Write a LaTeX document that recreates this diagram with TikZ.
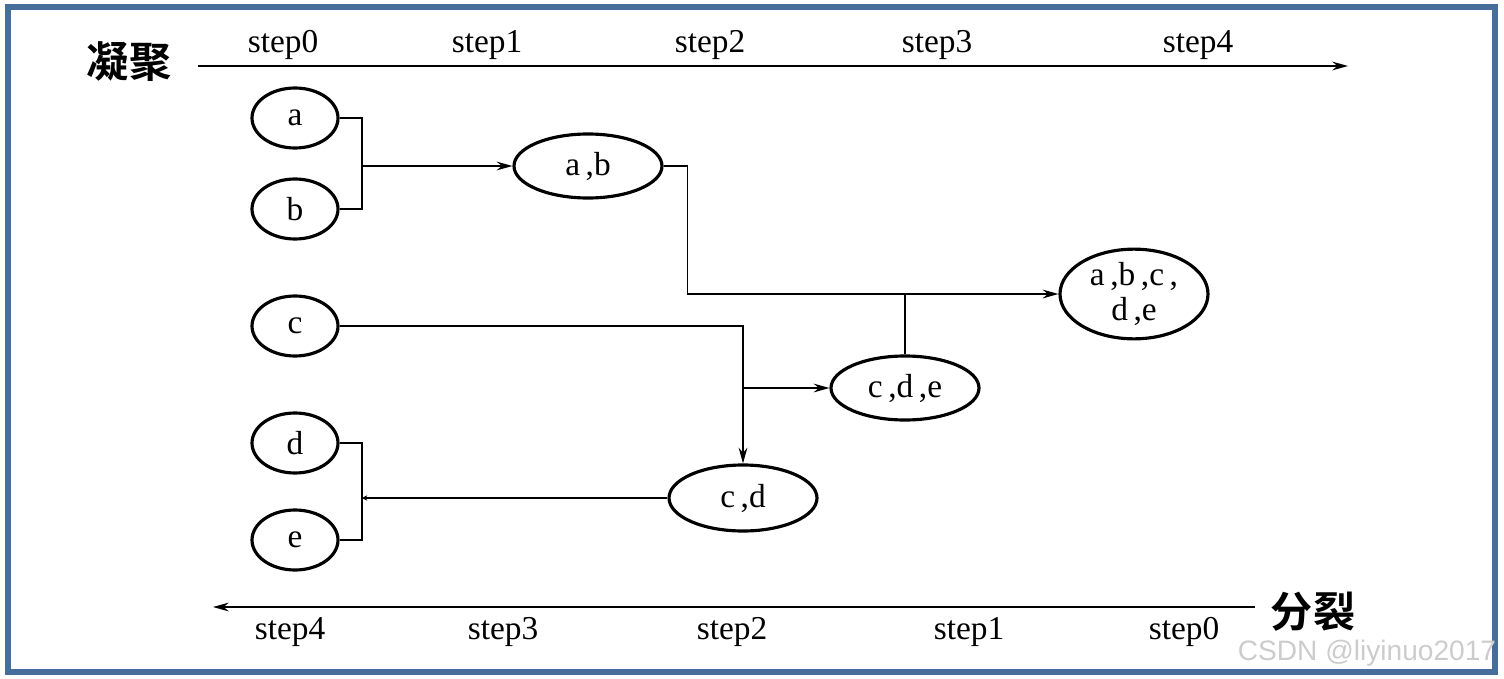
\documentclass[tikz,border=0pt]{standalone}
\usepackage{fontspec}
\setmainfont{Liberation Serif}
\newfontfamily\cjkbold[BoldFont={Noto Sans CJK SC Bold}]{Noto Sans CJK SC}
\newfontfamily\markfont{Liberation Sans}
\usetikzlibrary{arrows.meta, shapes.geometric}
\definecolor{framecol}{RGB}{70,110,154}
\begin{document}
\begin{tikzpicture}[x=0.02cm, y=-0.02cm, >={Stealth[length=9pt,width=5pt,inset=3pt]},
    leaf/.style={ellipse, draw, line width=1.8pt, minimum width=86*0.02cm, minimum height=60*0.02cm, inner sep=0pt, font=\fontsize{19}{20}\selectfont},
    group/.style={ellipse, draw, line width=1.8pt, minimum width=148*0.02cm, minimum height=64*0.02cm, inner sep=0pt, font=\fontsize{19}{20}\selectfont, align=center},
    link/.style={line width=0.8pt},
    steplabel/.style={font=\fontsize{19}{20}\selectfont, inner sep=0pt},
    phase/.style={font=\cjkbold\bfseries\fontsize{24}{26}\selectfont, inner sep=0pt}]
    \useasboundingbox (0,0) rectangle (1504,679);
    \draw[framecol, line width=6*0.02cm] (8,7) rectangle (1495,671.5);
    % leaves
    \node[leaf] (a) at (295,118) {a};
    \node[leaf] (b) at (295,209) {b};
    \node[leaf] (c) at (295,326) {c};
    \node[leaf] (d) at (295,443) {d};
    \node[leaf] (e) at (295,540) {e};
    % merged clusters
    \node[group] (ab) at (588,166) {a\,,b};
    \node[group, minimum height=66*0.02cm] (cd) at (743,498) {c\,,d};
    \node[group] (cde) at (905,388) {c\,,d\,,e};
    \node[group] (abcde) at (1134,294) {a\,,b\,,c\,,\\d\,,e};
    % joins
    \coordinate (jab) at (362,166);
    \coordinate (jde) at (362,498);
    \coordinate (jtop) at (cde.north |- abcde.west);
    \coordinate (jcd) at (743,388);
    \draw[link] (a.east) -| (jab) |- (b.east);
    \draw[link, ->] (jab) -- (ab.west);
    \draw[link, ->] (ab.east) -- ++(24,0) |- (abcde.west);
    \draw[link] (cde.north) -- (jtop);
    \draw[link, ->] (c.east) -| (cd.north);
    \draw[link, ->] (jcd) -- (cde.west);
    \draw[link] (d.east) -| (jde) |- (e.east);
    \draw[link, -{Stealth[length=3pt,width=3pt]}] (cd.west) -- (jde);
    % axes
    \coordinate (top0) at (198,66);
    \coordinate (top1) at (1348,66);
    \coordinate (bot0) at (1255,607);
    \coordinate (bot1) at (213,607);
    \draw[link, ->] (top0) -- (top1);
    \draw[link, ->] (bot0) -- (bot1);
    \node[steplabel] (t0) at (283,45) {step0};
    \node[steplabel] (t1) at (487,45) {step1};
    \node[steplabel] (t2) at (710,45) {step2};
    \node[steplabel] (t3) at (937,45) {step3};
    \node[steplabel] (t4) at (1198,45) {step4};
    \node[steplabel] (s4) at (290,632) {step4};
    \node[steplabel] (s3) at (503,632) {step3};
    \node[steplabel] (s2) at (732,632) {step2};
    \node[steplabel] (s1) at (969,632) {step1};
    \node[steplabel] (s0) at (1184,632) {step0};
    \node[phase] (agg) at (129,62) {凝聚};
    \node[phase] (div) at (1313,612) {分裂};
    \node[font=\markfont\fontsize{16}{17}\selectfont, text=black!20, inner sep=0pt] (mark) at (1367,653) {CSDN @liyinuo2017};
\end{tikzpicture}
\end{document}
